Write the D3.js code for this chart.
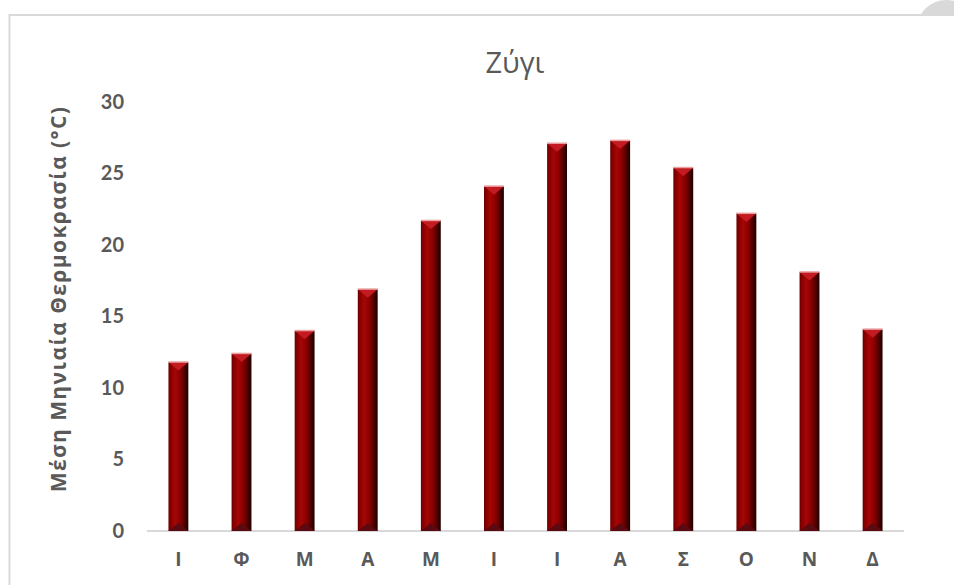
<!DOCTYPE html>
<html>
<head>
<meta charset="utf-8">
<script src="https://cdn.jsdelivr.net/npm/d3@7"></script>
<style>
  html, body { margin: 0; padding: 0; background: #fff; }
  svg { display: block; }
</style>
</head>
<body>
<svg id="chart" width="954" height="585"></svg>
<script>
// Monthly mean temperature for Ζύγι
const months = ["Ι", "Φ", "Μ", "Α", "Μ", "Ι", "Ι", "Α", "Σ", "Ο", "Ν", "Δ"];
const temps = [11.8, 12.4, 14.0, 16.9, 21.7, 24.1, 27.1, 27.3, 25.4, 22.2, 18.1, 14.1];
const yTicks = [0, 5, 10, 15, 20, 25, 30];
const title = "Ζύγι";
const yTitle = "Μέση Μηνιαία Θερμοκρασία (°C)";

const svg = d3.select("#chart");
const greekFont = "'Open Sans', 'Noto Sans', sans-serif";
const digitFont = "Lato, 'Open Sans', sans-serif";
const textGray = "#595959";

const plot = { left: 147, right: 904, top: 102, bottom: 531 };

const data = months.map((m, i) => ({ key: i, label: m, value: temps[i] }));

const x = d3.scaleBand()
  .domain(data.map(d => d.key))
  .range([plot.left, plot.right])
  .paddingInner(0.685)
  .paddingOuter(0.34);

const y = d3.scaleLinear().domain([0, 30]).range([plot.bottom, plot.top]);

// Gradients for the bevelled bars
const defs = svg.append("defs");
const body = defs.append("linearGradient").attr("id", "barBody")
  .attr("x1", "0").attr("x2", "1").attr("y1", "0").attr("y2", "0");
[["0%", "#6a0000"], ["12%", "#880000"], ["32%", "#a50606"], ["58%", "#8c0000"],
 ["80%", "#500000"], ["100%", "#1e0000"]]
  .forEach(([o, c]) => body.append("stop").attr("offset", o).attr("stop-color", c));

const clip = defs.append("clipPath").attr("id", "aboveFrame");
clip.append("rect").attr("x", 0).attr("y", 0).attr("width", 954).attr("height", 14);

// Selection handle peeking out at the top-right corner
svg.append("circle")
  .attr("cx", 946).attr("cy", 29).attr("r", 29)
  .attr("fill", "#d9d9d9")
  .attr("clip-path", "url(#aboveFrame)");

// Chart frame
svg.append("rect")
  .attr("x", 9.5).attr("y", 15).attr("width", 960).attr("height", 590)
  .attr("fill", "#fff").attr("stroke", "#d9d9d9").attr("stroke-width", 2);

// Title
svg.append("text")
  .attr("x", 515).attr("y", 73)
  .attr("text-anchor", "middle")
  .attr("font-family", greekFont).attr("font-size", 29)
  .attr("fill", textGray)
  .text(title);

// Y axis (labels only)
const yAxis = d3.axisLeft(y).tickValues(yTicks).tickSize(0).tickPadding(0);
const yg = svg.append("g").attr("transform", `translate(${124},0)`).call(yAxis);
yg.select(".domain").remove();
yg.selectAll("text")
  .attr("font-family", digitFont).attr("font-size", 20).attr("font-weight", "bold")
  .attr("fill", textGray);

// Y axis title
svg.append("text")
  .attr("transform", `translate(66,${299}) rotate(-90)`)
  .attr("text-anchor", "middle")
  .attr("font-family", greekFont).attr("font-size", 21).attr("font-weight", "bold")
  .attr("letter-spacing", 1.4)
  .attr("fill", textGray)
  .text(yTitle);

// X axis
const xAxis = d3.axisBottom(x).tickSize(0).tickPadding(22)
  .tickFormat(k => months[k]);
const xg = svg.append("g").attr("transform", `translate(0,${plot.bottom})`).call(xAxis);
xg.select(".domain").attr("stroke", "#d9d9d9").attr("stroke-width", 2)
  .attr("d", `M${plot.left},0H${plot.right}`);
xg.selectAll("text")
  .attr("font-family", greekFont).attr("font-size", 19).attr("font-weight", "bold")
  .attr("fill", textGray);

// Bars
const bars = svg.append("g").selectAll("g").data(data).join("g");
const bw = x.bandwidth();

bars.append("rect")
  .attr("x", d => x(d.key))
  .attr("y", d => y(d.value))
  .attr("width", bw)
  .attr("height", d => y(0) - y(d.value))
  .attr("fill", "url(#barBody)");

// top bevel facet
bars.append("path")
  .attr("d", d => {
    const x0 = x(d.key), y0 = y(d.value);
    return `M${x0},${y0}H${x0 + bw}L${x0 + bw / 2},${y0 + bw * 0.42}Z`;
  })
  .attr("fill", "#c41a22");

// thin light top edge
bars.append("rect")
  .attr("x", d => x(d.key))
  .attr("y", d => y(d.value) - 1)
  .attr("width", bw)
  .attr("height", 1.5)
  .attr("fill", "#e8a0a0");

// bottom bevel facet
bars.append("path")
  .attr("d", d => {
    const x0 = x(d.key), y0 = y(0);
    return `M${x0},${y0}H${x0 + bw}L${x0 + bw / 2},${y0 - bw * 0.4}Z`;
  })
  .attr("fill", "#5a0a10");
</script>
</body>
</html>
